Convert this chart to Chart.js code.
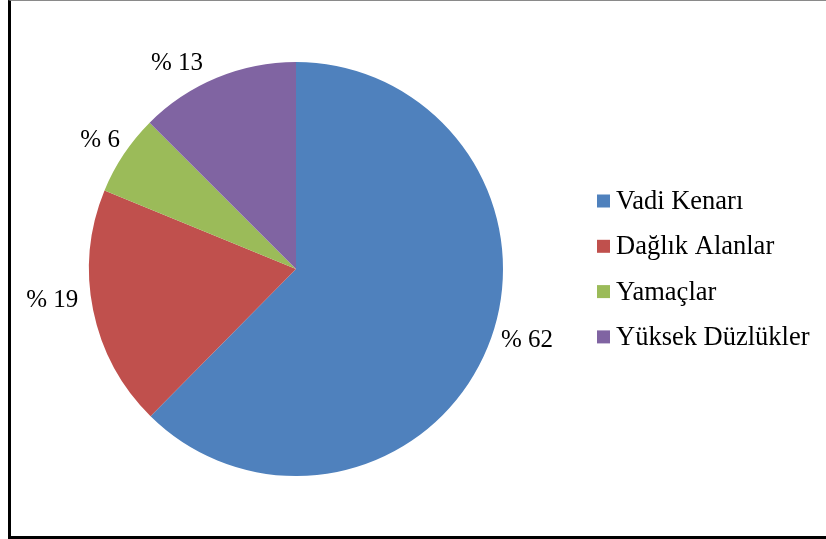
<!DOCTYPE html>
<html>
<head>
<meta charset="utf-8">
<script src="https://cdn.jsdelivr.net/npm/chart.js@4.4.1/dist/chart.umd.min.js"></script>
<style>
  html, body { margin: 0; padding: 0; background: #fff; overflow: hidden; }
  #wrap { position: relative; width: 826px; height: 539px; }
  #frame { position: absolute; left: 8px; top: 0; width: 840px; height: 539px;
           border-left: 3px solid #000; border-bottom: 3px solid #000; border-top: 1px solid #8a8a8a; box-sizing: border-box; }
  canvas { position: absolute; left: 0; top: 0; }
</style>
</head>
<body>
<div id="wrap">
  <div id="frame"></div>
  <canvas id="c" width="826" height="539"></canvas>
</div>
<script>
const categories = ["Vadi Kenarı", "Dağlık Alanlar", "Yamaçlar", "Yüksek Düzlükler"];
const values = [62.4, 18.8, 6.3, 12.5];
const valueLabels = ["% 62", "% 19", "% 6", "% 13"];
const colors = ["#4F81BD", "#C0504D", "#9BBB59", "#8064A2"];

const labelNudges = [[7, -21], [-8, -22], [2, 1], [-11, 3]];

const sliceLabels = {
  id: 'sliceLabels',
  afterDatasetsDraw(chart) {
    const ctx = chart.ctx;
    const meta = chart.getDatasetMeta(0);
    ctx.save();
    ctx.font = '25px "Liberation Serif", "Times New Roman", serif';
    ctx.fillStyle = '#000';
    meta.data.forEach((arc, i) => {
      const p = arc.getProps(['x', 'y', 'startAngle', 'endAngle', 'outerRadius'], true);
      const a = (p.startAngle + p.endAngle) / 2;
      const r = p.outerRadius + 7;
      const px = p.x + Math.cos(a) * r;
      const py = p.y + Math.sin(a) * r;
      const h = 22;
      let cy = Math.sin(a) >= 0 ? py + h / 2 : py - h / 2;
      ctx.textAlign = Math.cos(a) >= 0 ? 'left' : 'right';
      ctx.textBaseline = 'middle';
      const n = labelNudges[i];
      ctx.fillText(valueLabels[i], px + n[0], cy + n[1]);
    });
    ctx.restore();
  }
};

const customLegend = {
  id: 'customLegend',
  afterDraw(chart) {
    const ctx = chart.ctx;
    ctx.save();
    ctx.font = '26.5px "Liberation Serif", "Times New Roman", serif';
    ctx.fillStyle = '#000';
    ctx.textBaseline = 'middle';
    ctx.textAlign = 'left';
    const x0 = 597, y0 = 201, step = 45.3, box = 13;
    chart.data.labels.forEach((lab, i) => {
      const y = y0 + i * step;
      ctx.fillStyle = chart.data.datasets[0].backgroundColor[i];
      ctx.fillRect(x0, y - box / 2, box, box);
      ctx.fillStyle = '#000';
      ctx.fillText(lab, x0 + 19, y + 1);
    });
    ctx.restore();
  }
};

new Chart(document.getElementById('c'), {
  type: 'pie',
  data: {
    labels: categories,
    datasets: [{
      data: values,
      backgroundColor: colors,
      borderWidth: 0
    }]
  },
  options: {
    responsive: false,
    animation: false,
    layout: { padding: { left: 89, top: 62, right: 323, bottom: 63 } },
    plugins: {
      legend: { display: false },
      tooltip: { enabled: false }
    }
  },
  plugins: [sliceLabels, customLegend]
});
</script>
</body>
</html>
